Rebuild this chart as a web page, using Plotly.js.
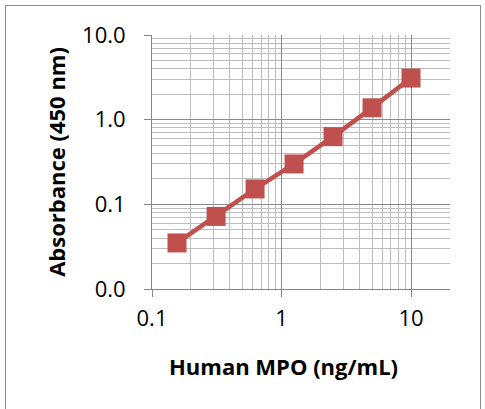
<!DOCTYPE html>
<html><head><meta charset="utf-8">
<script src="https://cdn.plot.ly/plotly-3.0.1.min.js"></script>
<style>
html,body{margin:0;padding:0;background:#fff;}
#frame{position:absolute;left:5px;top:5px;width:476px;height:410px;border:1px solid #8c8c8c;box-sizing:border-box;}
#chart{position:absolute;left:0;top:0;width:485px;height:409px;}
</style></head>
<body>
<div id="frame"></div>
<div id="chart"></div>
<script>
const concentration = [0.156, 0.3125, 0.625, 1.25, 2.5, 5, 10];
const absorbance = [0.035, 0.072, 0.152, 0.30, 0.63, 1.38, 3.1];
const yTickVals = [0.01, 0.1, 1, 10];
const yTickText = ['0.0', '0.1', '1.0', '10.0'];
const xTickVals = [0.1, 1, 10];
const xTickText = ['0.1', '1', '10'];
const xTitle = 'Human MPO (ng/mL)';
const yTitle = 'Absorbance (450 nm)';

function minorVals(lo, hi){ const v=[]; for(let d=lo; d<hi; d*=10){ for(let k=2;k<=9;k++){ v.push(+(d*k).toPrecision(3)); } } return v; }

const trace = {
  x: concentration, y: absorbance, type: 'scatter', mode: 'lines+markers',
  line: {color: '#C0504D', width: 4.5},
  marker: {symbol: 'square', size: 19, color: '#C0504D'},
  showlegend: false, cliponaxis: false
};
const fontFam = '"Open Sans", sans-serif';
const layout = {
  width: 485, height: 409,
  margin: {l: 152, r: 35, t: 35, b: 120},
  paper_bgcolor: 'rgba(0,0,0,0)', plot_bgcolor: '#fff',
  xaxis: {
    type: 'log', range: [-1, Math.log10(20)],
    tickvals: xTickVals, ticktext: xTickText,
    ticks: 'outside', ticklen: 7, tickcolor: '#868686',
    showline: true, linecolor: '#868686', linewidth: 1,
    showgrid: true, gridcolor: '#8a8a8a', gridwidth: 1,
    minor: {tickvals: minorVals(0.1, 20).filter(v=>v<=20), showgrid: true, gridcolor: '#bdbdbd', gridwidth: 1, ticks: ''},
    tickfont: {family: fontFam, size: 22, color: '#000'},
    ticklabelstandoff: 3,
    zeroline: false, mirror: false
  },
  yaxis: {
    type: 'log', range: [-2, 1],
    tickvals: yTickVals, ticktext: yTickText,
    ticks: 'outside', ticklen: 7, tickcolor: '#868686',
    showline: true, linecolor: '#868686', linewidth: 1,
    showgrid: true, gridcolor: '#8a8a8a', gridwidth: 1,
    minor: {tickvals: minorVals(0.01, 10), showgrid: true, gridcolor: '#bdbdbd', gridwidth: 1, ticks: ''},
    tickfont: {family: fontFam, size: 22, color: '#000'},
    ticklabelstandoff: 14,
    title: {text: yTitle, font: {family: fontFam, size: 22, color: '#000', weight: 'bold'}, standoff: 10},
    zeroline: false
  },
  annotations: [{
    text: xTitle, xref: 'paper', yref: 'paper', x: 0.44, y: -0.303,
    xanchor: 'center', yanchor: 'middle', showarrow: false,
    font: {family: fontFam, size: 22, color: '#000', weight: 'bold'}
  }]
};
Plotly.newPlot('chart', [trace], layout, {displayModeBar: false, staticPlot: true});
</script>
</body></html>
